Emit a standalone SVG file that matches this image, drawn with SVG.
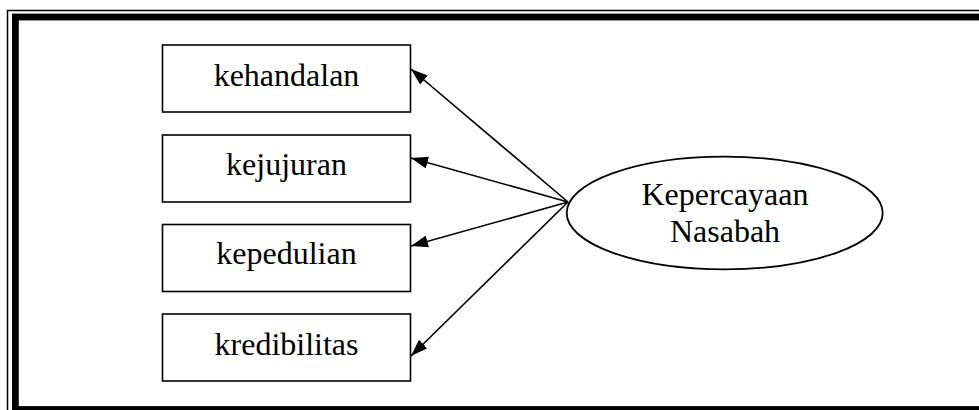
<svg xmlns="http://www.w3.org/2000/svg" width="979" height="410" viewBox="0 0 979 410">
<style>
  .box { fill: #ffffff; stroke: #000000; stroke-width: 1.6; }
  .lbl { font-family: "Liberation Serif", "Times New Roman", serif; font-size: 32px; fill: #000000; text-anchor: middle; }
  .conn { stroke: #000000; stroke-width: 1.6; fill: none; marker-end: url(#arrow); }
</style>
<defs>
  <marker id="arrow" viewBox="0 0 17 12" refX="17" refY="6" markerWidth="17" markerHeight="12" markerUnits="userSpaceOnUse" orient="auto">
    <path d="M0,0 L17,6 L0,12 Z" fill="#000000"/>
  </marker>
</defs>
<rect x="0" y="0" width="979" height="410" fill="#ffffff"/>
<g id="frame">
  <rect x="7.5" y="10.5" width="990" height="420" fill="none" stroke="#000000" stroke-width="1.5"/>
  <rect x="15.4" y="17" width="967.2" height="392.5" fill="none" stroke="#000000" stroke-width="6.8"/>
</g>
<g id="connectors">
  <line class="conn" x1="568" y1="202" x2="411" y2="69"/>
  <line class="conn" x1="568" y1="202" x2="411" y2="158"/>
  <line class="conn" x1="568" y1="202" x2="411" y2="246"/>
  <line class="conn" x1="568" y1="202" x2="411" y2="356"/>
</g>
<g id="kehandalan">
  <rect class="box" x="162.5" y="45" width="248" height="67"/>
  <text class="lbl" x="286.5" y="86">kehandalan</text>
</g>
<g id="kejujuran">
  <rect class="box" x="162.5" y="135" width="248" height="67"/>
  <text class="lbl" x="286.5" y="175">kejujuran</text>
</g>
<g id="kepedulian">
  <rect class="box" x="162.5" y="224.5" width="248" height="67"/>
  <text class="lbl" x="286.5" y="264">kepedulian</text>
</g>
<g id="kredibilitas">
  <rect class="box" x="162.5" y="314" width="248" height="67"/>
  <text class="lbl" x="286.5" y="354.5">kredibilitas</text>
</g>
<g id="kepercayaan-nasabah">
  <ellipse cx="724.7" cy="213" rx="158" ry="56.3" fill="#ffffff" stroke="#000000" stroke-width="1.8"/>
  <text class="lbl" x="725" y="205">Kepercayaan</text>
  <text class="lbl" x="725" y="241.7">Nasabah</text>
</g>
</svg>
